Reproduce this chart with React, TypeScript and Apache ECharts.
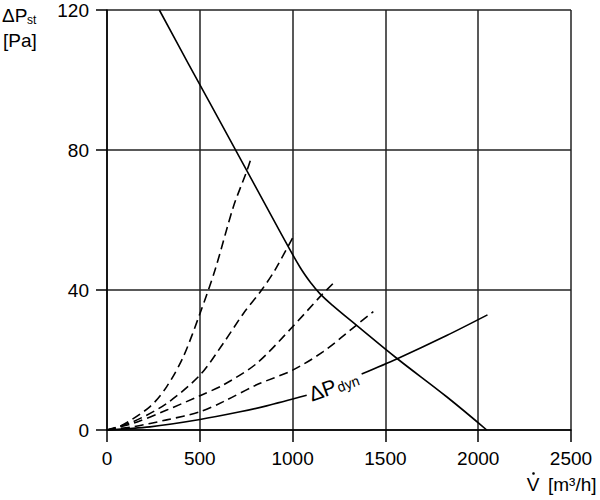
import React, { useEffect, useRef } from "react";
import * as echarts from "echarts";

// Fan characteristic (solid)
const fanFlow = [282, 438, 663, 932, 1040, 1100, 1148, 1220, 1345, 1561, 1830, 2046];
const fanPressure = [120, 104.7, 82.9, 56.7, 46.5, 41.9, 38.9, 35.4, 29.9, 20.5, 9.5, 0];

// System curves (dashed)
const sys1Flow = [0, 70, 232, 322, 411, 501, 582, 681, 752, 776];
const sys1Pressure = [0, 1, 6.7, 12.4, 20.9, 33.3, 45.7, 63.8, 73.8, 77.6];

const sys2Flow = [0, 142, 322, 501, 627, 735, 833, 905, 1013];
const sys2Pressure = [0, 2.4, 7.6, 15.7, 24.8, 33.3, 40, 45.7, 56.2];

const sys3Flow = [0, 142, 322, 501, 627, 806, 1000, 1148, 1219];
const sys3Pressure = [0, 1.9, 5.7, 9.8, 12.9, 19, 29.5, 38.1, 41.9];

const sys4Flow = [0, 142, 322, 501, 627, 806, 1000, 1165, 1345, 1435];
const sys4Pressure = [0, 0.95, 2.9, 5.2, 8.1, 12.9, 17.1, 22.4, 30, 33.8];

// Dynamic pressure (solid, interrupted by its label)
const dynFlowA = [0, 232, 501, 717, 860, 1076];
const dynPressureA = [0, 0.9, 3, 5.2, 6.9, 9.9];
const dynFlowB = [1372, 1561, 1830, 2050];
const dynPressureB = [16, 20.3, 27, 32.9];

const xTickMin = 0;
const xTickMax = 2500;
const xTickStep = 500;
const yTickMin = 0;
const yTickMax = 120;
const yTickStep = 40;

const pairs = (xs: number[], ys: number[]) => xs.map((x, i) => [x, ys[i]]);

export default function App() {
  const ref = useRef<HTMLDivElement>(null);
  useEffect(() => {
    const chart = echarts.init(ref.current!, null, { renderer: "svg" });
    const font = '"Liberation Sans", Arial, sans-serif';
    const lineS = (name: string, data: number[][], dashed: boolean, smooth = 0.3) => ({
      type: "line",
      name,
      data,
      showSymbol: false,
      symbol: "none",
      smooth,
      silent: true,
      z: 3,
      lineStyle: { color: "#000", width: 1.6, type: dashed ? [9, 5] : "solid" },
    });
    chart.setOption({
      animation: false,
      backgroundColor: "#fff",
      textStyle: { fontFamily: font },
      grid: { left: 107, right: 29, top: 10, bottom: 70 },
      xAxis: {
        type: "value",
        min: xTickMin,
        max: xTickMax,
        interval: xTickStep,
        axisLine: { show: true, lineStyle: { color: "#000", width: 1.5 } },
        axisTick: { show: true, length: 12, lineStyle: { color: "#000", width: 1.5 } },
        axisLabel: { color: "#000", fontSize: 19, margin: 19, fontFamily: font, formatter: (v: number) => String(v) },
        splitLine: { show: true, lineStyle: { color: "#222", width: 1.5 } },
      },
      yAxis: {
        type: "value",
        min: yTickMin,
        max: yTickMax,
        interval: yTickStep,
        axisLine: { show: true, lineStyle: { color: "#000", width: 1.5 } },
        axisTick: { show: true, length: 11, lineStyle: { color: "#000", width: 1.5 } },
        axisLabel: { color: "#000", fontSize: 19, margin: 18, fontFamily: font, formatter: (v: number) => String(v) },
        splitLine: { show: true, lineStyle: { color: "#222", width: 1.5 } },
      },
      series: [
        lineS("fan", pairs(fanFlow, fanPressure), false, 0.4),
        lineS("sys1", pairs(sys1Flow, sys1Pressure), true),
        lineS("sys2", pairs(sys2Flow, sys2Pressure), true),
        lineS("sys3", pairs(sys3Flow, sys3Pressure), true),
        lineS("sys4", pairs(sys4Flow, sys4Pressure), true),
        lineS("dynA", pairs(dynFlowA, dynPressureA), false),
        lineS("dynB", pairs(dynFlowB, dynPressureB), false),
      ],
      graphic: [
        { type: "text", x: 2, y: 15, style: { text: "ΔP", fontSize: 19, fontFamily: font, fill: "#000", verticalAlign: "middle", align: "left" } },
        { type: "text", x: 27, y: 20, style: { text: "st", fontSize: 12, fontFamily: font, fill: "#000", verticalAlign: "middle", align: "left" } },
        { type: "text", x: 3, y: 40, style: { text: "[Pa]", fontSize: 19, fontFamily: font, fill: "#000", verticalAlign: "middle", align: "left" } },
        { type: "text", x: 533, y: 484, style: { text: "V", fontSize: 19, fontFamily: font, fill: "#000", verticalAlign: "middle", align: "center" } },
        { type: "circle", shape: { cx: 533.5, cy: 473.5, r: 1.3 }, style: { fill: "#000" } },
        { type: "text", x: 548, y: 484, style: { text: "[m³/h]", fontSize: 19, fontFamily: font, fill: "#000", verticalAlign: "middle", align: "left" } },
        {
          type: "group",
          x: 322.5,
          y: 390,
          rotation: (20 * Math.PI) / 180,
          children: [
            { type: "text", x: 0, y: 0, style: { text: "ΔP", fontSize: 21, fontFamily: font, fill: "#000", verticalAlign: "middle", align: "center" } },
            { type: "text", x: 15, y: 3, style: { text: "dyn", fontSize: 14, fontFamily: font, fill: "#000", verticalAlign: "middle", align: "left" } },
          ],
        },
      ],
    });
    return () => chart.dispose();
  }, []);
  return <div ref={ref} style={{ position: "fixed", left: 0, top: 0, width: 600, height: 500 }} />;
}
